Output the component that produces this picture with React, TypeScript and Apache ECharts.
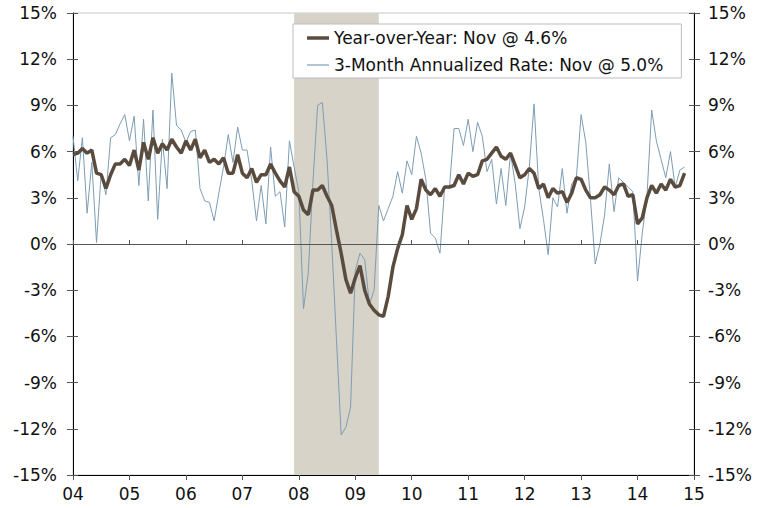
import React, { useEffect, useRef } from "react";
import * as echarts from "echarts";

// Monthly data, Jan 2004 – Nov 2014
const START_YEAR = 2004;

const yoyValues = [
  5.8, 5.9, 6.2, 5.9, 6.1, 4.6, 4.5, 3.6, 4.5, 5.2, 5.2, 5.5,
  5.1, 6.1, 4.8, 6.6, 5.5, 6.9, 5.9, 6.5, 6.1, 6.8, 6.3, 5.9,
  6.7, 6.1, 6.8, 5.6, 6.1, 5.3, 5.5, 5.2, 5.6, 4.6, 4.6, 5.8,
  4.6, 4.3, 4.9, 4.0, 4.5, 4.5, 5.2, 4.6, 4.1, 3.7, 5.0, 3.4,
  3.1, 2.2, 1.9, 3.5, 3.5, 3.8, 3.1, 2.5, 0.9, -0.6, -2.3, -3.2,
  -2.2, -1.4, -3.0, -3.9, -4.3, -4.6, -4.7, -3.4, -1.5, -0.3, 0.6, 2.5,
  1.6, 2.3, 4.2, 3.5, 3.2, 3.6, 3.1, 3.7, 3.7, 3.8, 4.5, 3.9,
  4.6, 4.4, 4.5, 5.4, 5.5, 5.9, 6.3, 5.7, 5.5, 5.9, 5.1, 4.3,
  4.5, 4.9, 4.6, 3.6, 3.9, 3.0, 3.6, 3.3, 3.4, 2.7, 3.3, 4.3,
  4.2, 3.5, 3.0, 3.0, 3.2, 3.7, 3.5, 3.2, 3.8, 3.9, 3.1, 3.2,
  1.3, 1.7, 3.0, 3.8, 3.3, 3.9, 3.5, 4.2, 3.7, 3.8, 4.6,
];

const annualized3mValues = [
  7.0, 4.1, 6.9, 2.0, 5.3, 0.1, 4.6, 3.2, 6.9, 7.1, 7.8, 8.4,
  6.7, 8.3, 3.8, 8.1, 2.8, 8.7, 1.6, 6.8, 3.6, 11.1, 7.7, 7.4,
  6.6, 7.3, 7.4, 3.6, 2.8, 2.7, 1.5, 3.3, 5.0, 7.1, 5.3, 7.6,
  6.1, 6.1, 4.1, 1.5, 3.8, 1.3, 6.3, 3.1, 3.4, 1.1, 6.7, 5.0,
  3.4, -4.2, -1.9, 4.0, 9.0, 9.2, 5.5, 0.0, -6.2, -12.4, -11.9, -10.6,
  -1.7, -0.6, -1.0, -3.9, -3.0, 2.5, 1.5, 2.3, 3.1, 4.7, 3.3, 5.4,
  4.5, 7.0, 5.9, 4.2, 0.7, 0.4, -0.6, 3.7, 3.6, 7.5, 7.5, 6.4,
  8.1, 6.0, 7.9, 7.0, 4.7, 5.5, 2.6, 4.9, 2.5, 5.9, 3.9, 1.0,
  2.4, 5.0, 9.1, 3.6, 1.6, -0.7, 3.0, 2.4, 4.9, 2.0, 3.9, 4.3,
  8.4, 6.6, 2.9, -1.3, 0.0, 1.9, 5.2, 2.1, 4.3, 4.0, 3.7, 3.4,
  -2.4, 0.7, 3.1, 8.7, 6.7, 5.5, 4.3, 6.0, 3.7, 4.8, 5.0,
];

const yearLabels = ["04", "05", "06", "07", "08", "09", "10", "11", "12", "13", "14", "15"];

// Recession: Dec 2007 – Jun 2009 (month indexes from Jan 2004)
const recessionMonths = [47, 65];

const lastMonthName = "Nov";

export default function App() {
  const ref = useRef<HTMLDivElement>(null);

  useEffect(() => {
    if (!ref.current) return;
    const chart = echarts.init(ref.current, null, { renderer: "svg" });
    const font = "'DejaVu Sans', Verdana, sans-serif";
    const toPoints = (arr: number[]) => arr.map((v, i) => [START_YEAR + i / 12, v]);

    const yoyName = `Year-over-Year: ${lastMonthName} @ ${yoyValues[yoyValues.length - 1].toFixed(1)}%`;
    const annName = `3-Month Annualized Rate: ${lastMonthName} @ ${annualized3mValues[annualized3mValues.length - 1].toFixed(1)}%`;

    const xMin = START_YEAR;
    const xMax = START_YEAR + yearLabels.length - 1;

    const xCommon = {
      type: "value",
      min: xMin,
      max: xMax,
      interval: 1,
      position: "bottom",
      splitLine: { show: false },
    };
    const yCommon = {
      type: "value",
      min: -15,
      max: 15,
      interval: 3,
      splitLine: { show: false },
    };
    const labelStyle = { fontSize: 17, fontFamily: font, color: "#111" };
    const tickColor = "#555";
    const yoyColor = "#5a4b3f";
    const annColor = "#7d9db5";

    chart.setOption({
      animation: false,
      grid: {
        left: 73,
        right: 78,
        top: 13,
        bottom: 33,
        show: true,
        borderColor: "#c8c8c8",
        borderWidth: 1,
        backgroundColor: "transparent",
      },
      legend: {
        data: [
          { name: yoyName, icon: "path://M0,0 L22,0 L22,3.5 L0,3.5 Z" },
          { name: annName, icon: "path://M0,0 L22,0 L22,1.2 L0,1.2 Z" },
        ],
        orient: "vertical",
        left: 293,
        top: 24,
        backgroundColor: "#fff",
        borderColor: "#bdbdbd",
        borderWidth: 1,
        borderRadius: 0,
        padding: [4, 18, 3, 14],
        itemGap: 7,
        itemWidth: 22,
        itemHeight: 20,
        symbolKeepAspect: true,
        textStyle: { fontSize: 17, fontFamily: font, color: "#111", lineHeight: 20 },
      },
      xAxis: [
        {
          ...xCommon,
          axisLine: { show: true, onZero: false, lineStyle: { color: "#000", width: 1 } },
          axisTick: { show: true, length: 5, lineStyle: { color: tickColor } },
          axisLabel: {
            ...labelStyle,
            margin: 10,
            formatter: (v: number) => yearLabels[Math.round(v - START_YEAR)],
          },
        },
        {
          ...xCommon,
          axisLine: { show: false },
          axisTick: { show: true, inside: true, length: 4, lineStyle: { color: tickColor } },
          axisLabel: { show: false },
        },
      ],
      yAxis: [
        {
          ...yCommon,
          position: "left",
          axisLine: { show: true, onZero: false, lineStyle: { color: "#000", width: 1 } },
          axisTick: { show: true, length: 6, lineStyle: { color: tickColor } },
          axisLabel: { ...labelStyle, margin: 16, formatter: "{value}%" },
        },
        {
          ...yCommon,
          position: "left",
          axisLine: { show: false },
          axisTick: { show: true, inside: true, length: 5, lineStyle: { color: tickColor } },
          axisLabel: { show: false },
        },
        {
          ...yCommon,
          position: "right",
          axisLine: { show: true, onZero: false, lineStyle: { color: "#000", width: 1 } },
          axisTick: { show: true, length: 6, lineStyle: { color: tickColor } },
          axisLabel: { ...labelStyle, margin: 14, formatter: "{value}%" },
        },
        {
          ...yCommon,
          position: "right",
          axisLine: { show: false },
          axisTick: { show: true, inside: true, length: 5, lineStyle: { color: tickColor } },
          axisLabel: { show: false },
        },
      ],
      series: [
        {
          name: annName,
          type: "line",
          xAxisIndex: 0,
          yAxisIndex: 0,
          data: toPoints(annualized3mValues),
          symbol: "none",
          showSymbol: false,
          lineStyle: { color: annColor, width: 1 },
          itemStyle: { color: annColor },
          z: 2,
          markArea: {
            silent: true,
            itemStyle: { color: "#d7d3c8" },
            data: [
              [
                { xAxis: START_YEAR + recessionMonths[0] / 12 },
                { xAxis: START_YEAR + recessionMonths[1] / 12 },
              ],
            ],
          },
          markLine: {
            silent: true,
            symbol: "none",
            label: { show: false },
            lineStyle: { color: "#555", width: 1, type: "solid" },
            data: [{ yAxis: 0 }],
          },
        },
        {
          name: yoyName,
          type: "line",
          xAxisIndex: 0,
          yAxisIndex: 0,
          data: toPoints(yoyValues),
          symbol: "none",
          showSymbol: false,
          lineStyle: { color: yoyColor, width: 3.5 },
          itemStyle: { color: yoyColor },
          z: 3,
        },
      ],
    });

    return () => chart.dispose();
  }, []);

  return (
    <div
      ref={ref}
      style={{ position: "fixed", left: 0, top: 0, width: 772, height: 508, background: "#fff" }}
    />
  );
}
